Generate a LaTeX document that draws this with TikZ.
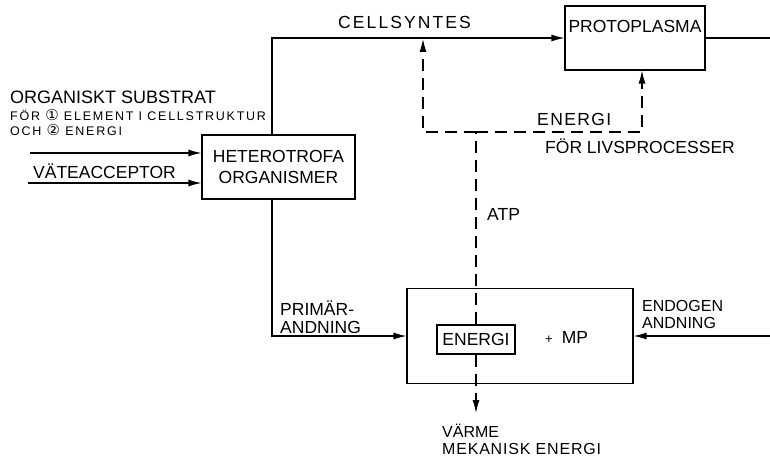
\documentclass[tikz,border=0pt]{standalone}
\usepackage{fontspec}
\setmainfont{Liberation Sans}
\newfontfamily\circfont{DejaVu Sans}
\usetikzlibrary{arrows.meta}
\newcommand\lbfont{\fontsize{17.5}{21}\selectfont}
\newcommand\smfont{\fontsize{12.5}{14}\selectfont\addfontfeature{LetterSpace=14}}
\tikzset{
  blk/.style={draw, line width=1.1pt, inner sep=0pt, font=\lbfont},
  flow/.style={-{Latex[length=13pt,width=7pt]}, line width=1.1pt},
  dln/.style={line width=1.1pt, dash pattern=on 12pt off 7pt},
  dflow/.style={flow, dash pattern=on 12pt off 7pt},
  lbl/.style={font=\lbfont, inner sep=0pt, anchor=base west},
  sml/.style={font=\smfont, inner sep=0pt, anchor=base west}
}

\begin{document}
\begin{tikzpicture}[x=1pt,y=-1pt]
  \useasboundingbox (0,0) rectangle (770,460);
  % boxes
  \node[blk, minimum width=153pt, minimum height=64pt, align=center] (het) at (278.5,167) {HETEROTROFA\\ORGANISMER};
  \node[blk, minimum width=140pt, text height=27pt, text depth=37pt] (proto) at (635,38) {PROTOPLASMA};
  \node[blk, minimum width=226pt, minimum height=95pt] (mp) at (520,336) {};
  \node[blk, minimum width=78pt, minimum height=29pt] (energi) at (476,339.5) {ENERGI};
  \node[lbl] (plus) at (545,343) {{\fontsize{13}{13}\selectfont +}\hspace{9pt}MP};
  % labels
  \node[lbl, font=\fontsize{18}{20}\selectfont] (sub) at (10,103) {ORGANISKT SUBSTRAT};
  \node[sml] (sub1) at (10,120) {FÖR {\circfont\fontsize{15}{15}\selectfont ①} ELEMENT I CELLSTRUKTUR};
  \node[sml] (sub2) at (10,135) {OCH {\circfont\fontsize{15}{15}\selectfont ②} ENERGI};
  \node[lbl] (vate) at (33,178) {VÄTEACCEPTOR};
  \node[lbl] (cslbl) at (338,29) {\addfontfeature{LetterSpace=12}CELLSYNTES};
  \node[lbl] (enlbl) at (537,125) {\addfontfeature{LetterSpace=8}ENERGI};
  \node[lbl] (livs) at (545,153) {FÖR LIVSPROCESSER};
  \node[lbl] (atplbl) at (487,220) {ATP};
  \node[lbl] (prim1) at (280,315) {PRIMÄR-};
  \node[lbl] (prim2) at (280,333) {ANDNING};
  \node[lbl, font=\fontsize{16}{18}\selectfont] (endo1) at (642,311) {ENDOGEN};
  \node[lbl, font=\fontsize{16}{18}\selectfont] (endo2) at (642,328) {ANDNING};
  \node[lbl, font=\fontsize{16}{18}\selectfont] (heat1) at (442,437) {VÄRME};
  \node[lbl, font=\fontsize{16}{18}\selectfont\addfontfeature{LetterSpace=5}] (heat2) at (442,454) {MEKANISK ENERGI};
  % free ends
  \coordinate (in1) at (30,153);
  \coordinate (in2) at (28,183);
  \coordinate (cs) at (423,39);
  \coordinate (atp) at (476,132);
  \coordinate (heat) at (476,413);
  \coordinate (outR) at (770,38);
  \coordinate (inR) at (770,336);
  % connectors
  \draw[flow] (in1) -- (in1 -| het.west);
  \draw[flow] (in2) -- (in2 -| het.west);
  \draw[flow] ([xshift=-6.5pt]het.north) |- (proto.west);
  \draw[line width=1.1pt] (proto.east) -- (outR);
  \draw[flow] ([xshift=-6.5pt]het.south) |- (mp.west);
  \draw[flow] (inR) -- (mp.east);
  \draw[dln] (energi.north) -- (atp);
  \draw[dflow] (atp) -| (cs);
  \draw[dflow] (atp) -| ([xshift=7pt]proto.south);
  \draw[dflow] (energi.south) -- (heat);
\end{tikzpicture}
\end{document}
